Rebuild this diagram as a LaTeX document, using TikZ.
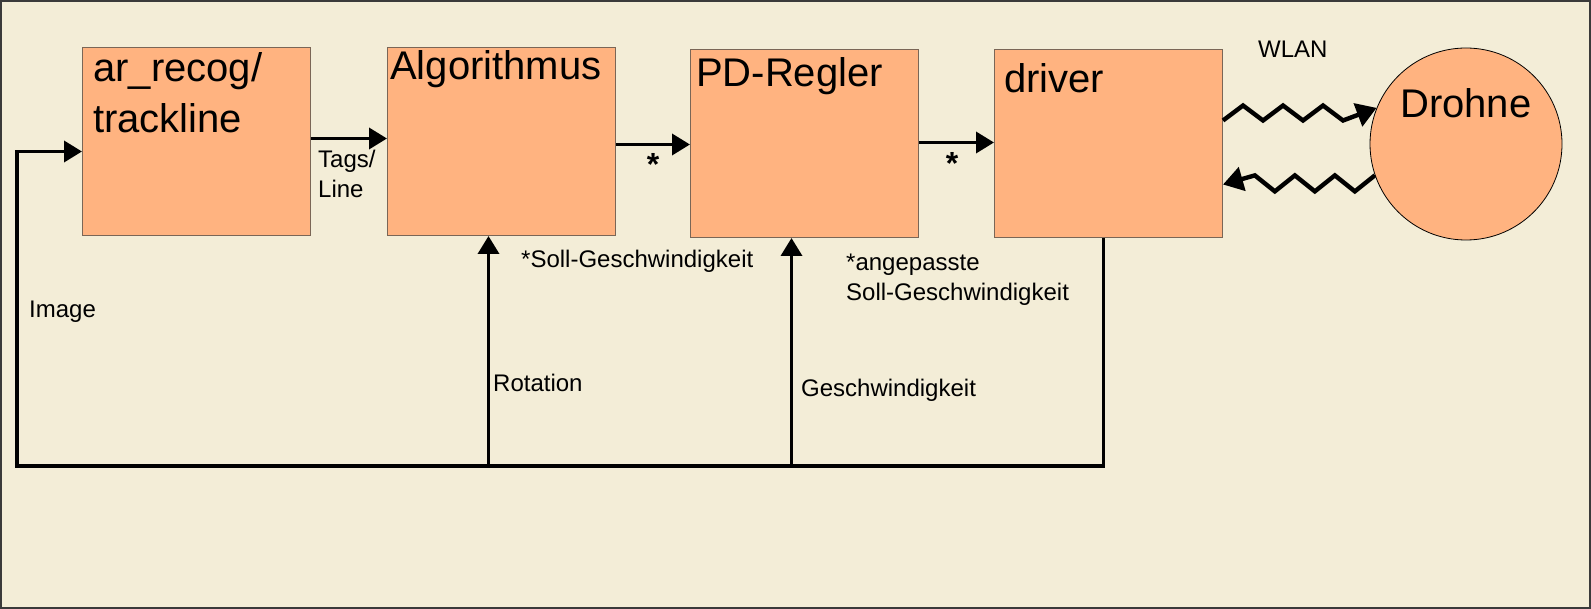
\documentclass[tikz,border=0pt]{standalone}
\usepackage{fontspec}
\setmainfont{Liberation Sans}
\usetikzlibrary{arrows.meta, positioning, calc}
\definecolor{ink}    {HTML}{000000}
\definecolor{paper}  {HTML}{F3EDD7}
\definecolor{frame}  {HTML}{3A3A3A}
\definecolor{salmon} {HTML}{FFB380}
\definecolor{edge}   {HTML}{7A6656}
\tikzset{
  block/.style  = {draw=edge, line width=1pt, fill=salmon, inner sep=0pt,
                   minimum width=228pt, minimum height=188pt, anchor=north west},
  drone/.style  = {circle, draw=ink, line width=0.8pt, fill=salmon,
                   inner sep=0pt, minimum size=192pt},
  title/.style  = {font=\fontsize{40}{51}\selectfont, inner sep=0pt,
                   anchor=base west, align=left},
  labl/.style   = {font=\fontsize{24}{30}\selectfont, inner sep=0pt,
                   anchor=base west, align=left},
  star/.style   = {font=\fontsize{32}{32}\selectfont\bfseries, inner sep=0pt},
  arr/.style    = {-{Triangle[length=18pt, width=21pt]}, line width=3.6pt, ink},
  wave/.style   = {-{Triangle[length=20pt, width=24pt]}, line width=4.4pt, ink,
                   line join=miter},
}

\begin{document}
\begin{tikzpicture}[x=1pt, y=-1pt]

  % sheet
  \fill[paper] (0,0) rectangle (1591,609);
  \draw[frame, line width=2pt] (1,1) rectangle (1590,608);
  \useasboundingbox (0,0) rectangle (1591,609);

  % blocks
  \node[block] (rec) at (82,47)  {};
  \node[block] (alg) at (387,47) {};
  \node[block] (pd)  at (690,49) {};
  \node[block] (drv) at (994,49) {};
  \node[drone] (dro) at (1466,144) {};

  \node[title] at ([shift={(11,86)}]rec.north west) {ar\_recog/\\trackline};
  \node[title] at ([shift={(3,33)}]alg.north west)  {Algorithmus};
  \node[title] at ([shift={(6,38)}]pd.north west)   {PD-Regler};
  \node[title] at ([shift={(10,44)}]drv.north west) {driver};
  \node[title] at ([shift={(-66,-26)}]dro.center)   {Drohne};

  % forward path
  \draw[arr] ([yshift=3pt]rec.east) -- ([yshift=3pt]rec.east -| alg.west);
  \node[labl] at ([shift={(7,56)}]rec.east) {Tags/\\Line};
  \draw[arr] ([yshift=-3pt]alg.east) -- ([yshift=-3pt]alg.east -| pd.west);
  \node[star] at (653,164) {*};
  \draw[arr] ([yshift=1pt]pd.east) -- ([yshift=1pt]pd.east -| drv.west);
  \node[star] at (952,163) {*};
  \node[labl] at (521,268) {*Soll-Geschwindigkeit};
  \node[labl] at (846,301) {*angepasste\\Soll-Geschwindigkeit};

  % WLAN link
  \node[labl] at (1258,58) {WLAN};
  \draw[wave] ([yshift=23pt]drv.east)
    \foreach \i in {1,2,3} { -- ++(20,-15) -- ++(20,15) } -- (dro.158);
  \draw[wave] (dro.199)
    \foreach \i in {1,2,3} { -- ++(-20,16) -- ++(-20,-16) } -- ([yshift=-41pt]drv.east);

  % feedback
  \coordinate (bl) at (17,466);
  \draw[arr, line join=miter] ([xshift=-5pt]drv.south) |- (bl) |- ([yshift=-10pt]rec.west);
  \draw[arr] ([xshift=-13pt]alg.south |- bl) -- ([xshift=-13pt]alg.south);
  \draw[arr] ([xshift=-13pt]pd.south |- bl)  -- ([xshift=-13pt]pd.south);
  \node[labl] at (29,318)  {Image};
  \node[labl] at (493,392) {Rotation};
  \node[labl] at (801,397) {Geschwindigkeit};

\end{tikzpicture}
\end{document}
